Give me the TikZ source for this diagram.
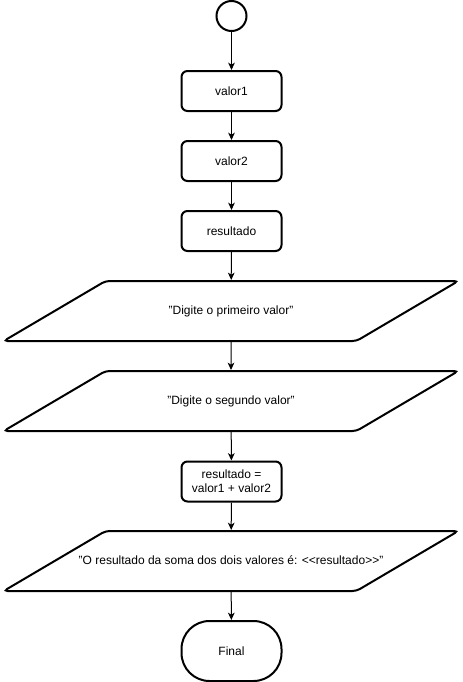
\documentclass[tikz,border=0pt]{standalone}
\usepackage{fontspec}
\setmainfont{Liberation Sans}
\usetikzlibrary{shapes,shapes.geometric,arrows.meta}

\begin{document}
\begin{tikzpicture}[x=0.75pt, y=-0.75pt,
	procbox/.style={font=\fontsize{9}{10.5}\selectfont, draw, line width=1.5pt, rounded corners=4.5pt, minimum width=75pt, minimum height=30pt, inner sep=2pt, align=center},
	iobox/.style={font=\fontsize{9}{10.5}\selectfont, draw, line width=1.5pt, trapezium, trapezium left angle=30.5, trapezium right angle=149.5, trapezium stretches body, minimum width=341pt, text height=7pt, text depth=2pt, inner xsep=2pt, inner ysep=18pt, rounded corners=3pt},
	startcirc/.style={circle, draw, line width=1.5pt, minimum size=22.5pt, inner sep=0},
	endbox/.style={font=\fontsize{9}{10.5}\selectfont, draw, line width=1.5pt, rounded corners=21pt, minimum width=75pt, minimum height=45pt, inner sep=2pt, align=center},
	flow/.style={line width=0.75pt, -{Stealth[length=5.5pt, width=5pt, inset=1.5pt]}}
]
\useasboundingbox (0,0) rectangle (462,682);
%start and declarations
\node[startcirc] (s0) at (231.5,16) {};
\node[procbox] (v1) at (231.5,91) {valor1};
\node[procbox] (v2) at (231.5,161) {valor2};
\node[procbox] (r0) at (231.5,231) {resultado};
%input and output
\node[iobox] (in1) at (231,311) {"Digite o primeiro valor"};
\node[iobox] (in2) at (231,401) {"Digite o segundo valor"};
\node[procbox] (sum) at (231.5,481.5) {resultado =\\valor1 + valor2};
\node[iobox, inner xsep=-22pt] (out) at (231,561) {"O resultado da soma dos dois valores é: <{}<resultado>{}>"};
\node[endbox] (fim) at (231.5,651) {Final};
\draw [flow] (s0) -- (v1);
\draw [flow] (v1) -- (v2);
\draw [flow] (v2) -- (r0);
\draw [flow] (r0) -- (in1);
\draw [flow] (in1) -- (in2);
\draw [flow] (in2) -- (sum);
\draw [flow] (sum) -- (out);
\draw [flow] (out) -- (fim);
\end{tikzpicture}
\end{document}
